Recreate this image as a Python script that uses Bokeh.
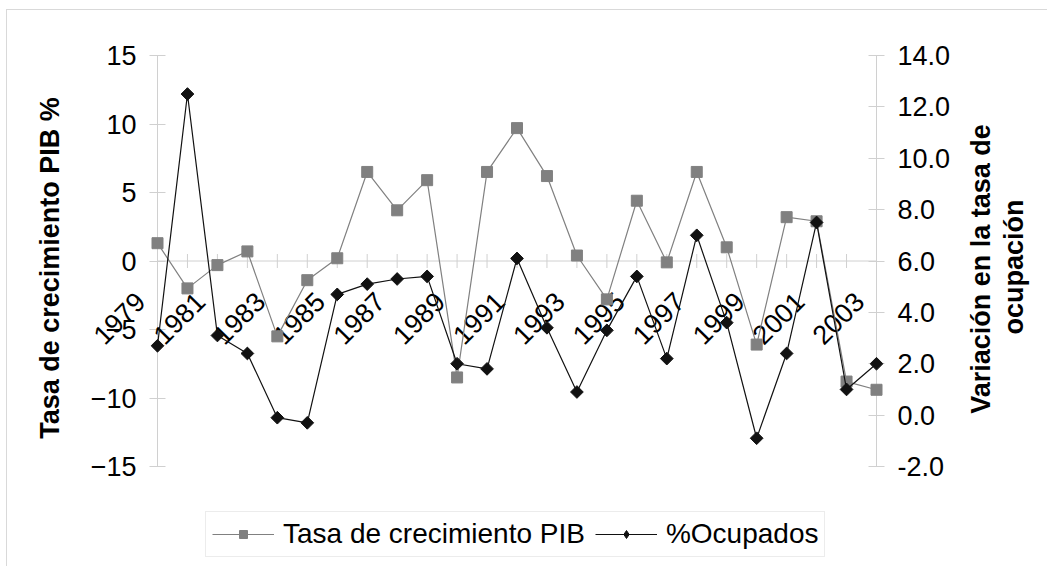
from math import pi
from bokeh.plotting import figure
from bokeh.models import (Range1d, LinearAxis, FixedTicker, Legend, LegendItem,
                          NumeralTickFormatter, Span)
from bokeh.embed import file_html
from bokeh.resources import INLINE

years = [1979, 1980, 1981, 1982, 1983, 1984, 1985, 1986, 1987, 1988, 1989, 1990,
         1991, 1992, 1993, 1994, 1995, 1996, 1997, 1998, 1999, 2000, 2001, 2002, 2003]
pib = [1.3, -2.0, -0.3, 0.7, -5.5, -1.4, 0.2, 6.5, 3.7, 5.9, -8.5, 6.5,
       9.7, 6.2, 0.4, -2.8, 4.4, -0.1, 6.5, 1.0, -6.1, 3.2, 2.9, -8.8, -9.4]
ocupados = [2.7, 12.5, 3.1, 2.4, -0.1, -0.3, 4.7, 5.1, 5.3, 5.4, 2.0, 1.8,
            6.1, 3.4, 0.9, 3.3, 5.4, 2.2, 7.0, 3.6, -0.9, 2.4, 7.5, 1.0, 2.0]
tick_labels = ["1979", "1981", "1983", "1985", "1987", "1989", "1991",
               "1993", "1995", "1997", "1999", "2001", "2003"]
left_ticks = [-15, -10, -5, 0, 5, 10, 15]
right_ticks = [-2, 0, 2, 4, 6, 8, 10, 12, 14]
left_title = "Tasa de crecimiento PIB %"
right_title = ["Variación en la tasa de", "ocupación"]

FONT = "Liberation Sans"
AXIS_GRAY = "#d0d0d0"

# layout in pixels: the axes span AXIS_PX, the frame continues EXTRA_PX below
# them so the legend can sit inside the frame
AXIS_PX = 411
EXTRA_PX = 96
FRAME_PX = AXIS_PX + EXTRA_PX
TOP_PX = 45
HEIGHT = 557
l_lo, l_hi = left_ticks[0], left_ticks[-1]
r_lo, r_hi = right_ticks[0], right_ticks[-1]
l_start = l_hi - (l_hi - l_lo) * FRAME_PX / AXIS_PX
r_start = r_hi - (r_hi - r_lo) * FRAME_PX / AXIS_PX

p = figure(width=1041, height=HEIGHT,
           x_range=Range1d(years[0], years[-1]), y_range=Range1d(l_start, l_hi),
           x_axis_location=None,
           output_backend="svg", toolbar_location=None,
           min_border_left=150, min_border_right=172,
           min_border_top=TOP_PX, min_border_bottom=HEIGHT - TOP_PX - FRAME_PX)
p.styles = {"margin-left": "6px", "margin-top": "9px",
            "border-top": "1px solid #d9d9d9", "border-left": "1px solid #d9d9d9"}
p.xgrid.visible = False
p.ygrid.visible = False
p.outline_line_color = None
p.background_fill_color = "white"
p.border_fill_color = "white"

p.extra_y_ranges = {"right": Range1d(r_start, r_hi)}

# category axis crossing at 0
p.add_layout(Span(location=0, dimension="width", line_color=AXIS_GRAY, line_width=1))
p.scatter(years, [0] * len(years), marker="dash", angle=pi / 2, size=14,
          line_color=AXIS_GRAY, level="overlay")
label_years = [int(t) for t in tick_labels]
p.text(x=label_years, y=[0] * len(label_years), text=tick_labels, angle=pi / 4,
       text_align="right", text_baseline="middle", x_offset=-17, y_offset=36,
       text_font={"value": FONT}, text_font_size="27px", text_color="black",
       level="overlay")

r1 = p.line(years, pib, line_color="#808080", line_width=1.2, level="overlay")
r1m = p.scatter(years, pib, marker="square", size=11,
                fill_color="#808080", line_color="#808080", level="overlay")
r2 = p.line(years, ocupados, y_range_name="right", line_color="#111111",
            line_width=1.2, level="overlay")
r2m = p.scatter(years, ocupados, y_range_name="right", marker="square", angle=pi / 4,
                size=9, fill_color="#111111", line_color="#111111", level="overlay")
# legend-only diamond glyph (its single point is NaN, so nothing is drawn in the plot)
r2leg = p.scatter(x=[years[0]], y=[float("nan")], y_range_name="right",
                  marker="diamond", size=15,
                  fill_color="#111111", line_color="#111111")

# left axis
ya = p.yaxis[0]
ya.ticker = FixedTicker(ticks=left_ticks)
ya.bounds = (l_lo, l_hi)
ya.axis_line_color = AXIS_GRAY
ya.major_tick_line_color = AXIS_GRAY
ya.major_tick_in = 8
ya.major_tick_out = 8
ya.minor_tick_line_color = None
ya.major_label_text_font = FONT
ya.major_label_text_font_size = "27px"
ya.major_label_text_color = "black"
ya.major_label_standoff = 13

# right axis
ra = LinearAxis(y_range_name="right", ticker=FixedTicker(ticks=right_ticks),
                formatter=NumeralTickFormatter(format="0.0"), bounds=(r_lo, r_hi))
ra.axis_line_color = AXIS_GRAY
ra.major_tick_line_color = AXIS_GRAY
ra.major_tick_in = 8
ra.major_tick_out = 8
ra.minor_tick_line_color = None
ra.major_label_text_font = FONT
ra.major_label_text_font_size = "27px"
ra.major_label_text_color = "black"
ra.major_label_standoff = 13
p.add_layout(ra, "right")

# axis titles (rotated, reading bottom to top)
p.text(x=[years[0]], y=[0], text=[left_title], angle=pi / 2,
       text_align="center", text_baseline="middle", x_offset=-108, y_offset=7,
       text_font={"value": FONT}, text_font_style="bold", text_font_size="27px",
       text_color="black", level="overlay")
p.text(x=[years[-1]], y=[6], text=[right_title[0]], y_range_name="right", angle=pi / 2,
       text_align="center", text_baseline="middle", x_offset=104, y_offset=8,
       text_font={"value": FONT}, text_font_style="bold", text_font_size="27px",
       text_color="black", level="overlay")
p.text(x=[years[-1]], y=[6], text=[right_title[1]], y_range_name="right", angle=pi / 2,
       text_align="center", text_baseline="middle", x_offset=137, y_offset=6,
       text_font={"value": FONT}, text_font_style="bold", text_font_size="27px",
       text_color="black", level="overlay")

legend = Legend(items=[LegendItem(label="Tasa de crecimiento PIB", renderers=[r1, r1m]),
                       LegendItem(label="%Ocupados", renderers=[r2, r2leg])],
                orientation="horizontal", location=(48, 5),
                border_line_color="#d9d9d9", background_fill_color="white",
                label_text_font=FONT, label_text_font_size="28px",
                label_text_color="black",
                glyph_width=62, glyph_height=20, label_standoff=9,
                padding=6, spacing=10, margin=0)
p.add_layout(legend, "center")

open("out.html", "w").write(file_html(p, INLINE))
